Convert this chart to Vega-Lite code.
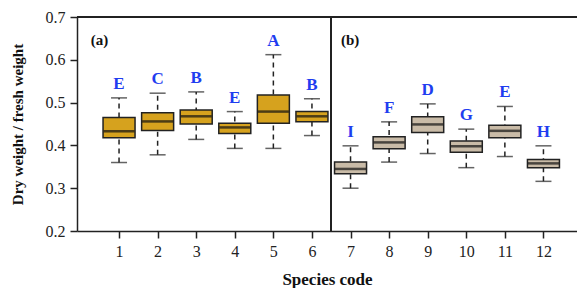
{
  "$schema": "https://vega.github.io/schema/vega-lite/v6.json",
  "width": 500,
  "height": 214,
  "autosize": {"type": "none"},
  "padding": {"left": 77, "top": 17, "right": 0, "bottom": 57},
  "config": {
    "view": {"stroke": null},
    "font": "Liberation Serif",
    "axis": {"grid": false, "domainColor": "#222", "domainWidth": 1.5, "tickColor": "#222", "tickWidth": 1.5, "tickSize": 7, "labelFont": "Liberation Serif", "labelFontSize": 16, "labelColor": "#222", "titleFont": "Liberation Serif", "titleFontWeight": "bold", "titleColor": "#111"}
  },
  "datasets": {
    "boxes": [
      {"species": 1, "panel": "a", "low": 0.360, "q1": 0.418, "med": 0.433, "q3": 0.465, "high": 0.511, "letter": "E"},
      {"species": 2, "panel": "a", "low": 0.378, "q1": 0.435, "med": 0.456, "q3": 0.476, "high": 0.522, "letter": "C"},
      {"species": 3, "panel": "a", "low": 0.414, "q1": 0.450, "med": 0.468, "q3": 0.483, "high": 0.525, "letter": "B"},
      {"species": 4, "panel": "a", "low": 0.393, "q1": 0.428, "med": 0.442, "q3": 0.452, "high": 0.479, "letter": "E"},
      {"species": 5, "panel": "a", "low": 0.393, "q1": 0.452, "med": 0.479, "q3": 0.518, "high": 0.612, "letter": "A"},
      {"species": 6, "panel": "a", "low": 0.423, "q1": 0.455, "med": 0.468, "q3": 0.479, "high": 0.509, "letter": "B"},
      {"species": 7, "panel": "b", "low": 0.300, "q1": 0.334, "med": 0.345, "q3": 0.361, "high": 0.399, "letter": "I"},
      {"species": 8, "panel": "b", "low": 0.361, "q1": 0.392, "med": 0.407, "q3": 0.420, "high": 0.455, "letter": "F"},
      {"species": 9, "panel": "b", "low": 0.381, "q1": 0.430, "med": 0.449, "q3": 0.467, "high": 0.497, "letter": "D"},
      {"species": 10, "panel": "b", "low": 0.348, "q1": 0.384, "med": 0.398, "q3": 0.410, "high": 0.438, "letter": "G"},
      {"species": 11, "panel": "b", "low": 0.374, "q1": 0.418, "med": 0.434, "q3": 0.447, "high": 0.491, "letter": "E"},
      {"species": 12, "panel": "b", "low": 0.316, "q1": 0.348, "med": 0.358, "q3": 0.367, "high": 0.399, "letter": "H"}
    ],
    "panels": [
      {"species": 0.27, "value": 0.647, "label": "(a)"},
      {"species": 6.75, "value": 0.647, "label": "(b)"}
    ]
  },
  "data": {"name": "boxes"},
  "layer": [
    {
      "mark": {"type": "rule", "strokeDash": [5, 4], "strokeWidth": 1.5, "color": "#222"},
      "encoding": {
        "x": {"field": "species", "type": "quantitative", "scale": {"domain": [0.04, 12.74], "nice": false, "zero": false},
          "axis": {"values": [1,2,3,4,5,6,7,8,9,10,11,12], "title": "Species code", "titleFontSize": 17, "titlePadding": 12, "labelPadding": 5}},
        "y": {"field": "low", "type": "quantitative", "scale": {"domain": [0.2, 0.7], "nice": false, "zero": false},
          "axis": {"values": [0.2,0.3,0.4,0.5,0.6,0.7], "format": ".1f", "title": "Dry weight / fresh weight", "titleFontSize": 15, "titlePadding": 20, "labelPadding": 5}},
        "y2": {"field": "high"}
      }
    },
    {
      "mark": {"type": "tick", "orient": "horizontal", "size": 16, "thickness": 1.5, "color": "#222"},
      "encoding": {"x": {"field": "species", "type": "quantitative"}, "y": {"field": "low", "type": "quantitative"}}
    },
    {
      "mark": {"type": "tick", "orient": "horizontal", "size": 16, "thickness": 1.5, "color": "#222"},
      "encoding": {"x": {"field": "species", "type": "quantitative"}, "y": {"field": "high", "type": "quantitative"}}
    },
    {
      "mark": {"type": "bar", "size": 32, "stroke": "#222", "strokeWidth": 1.5},
      "encoding": {
        "x": {"field": "species", "type": "quantitative"},
        "y": {"field": "q1", "type": "quantitative"},
        "y2": {"field": "q3"},
        "color": {"field": "panel", "type": "nominal", "scale": {"domain": ["a", "b"], "range": ["#D6A21E", "#C9BBA7"]}, "legend": null}
      }
    },
    {
      "mark": {"type": "tick", "orient": "horizontal", "size": 31, "thickness": 2.5, "color": "#111"},
      "encoding": {"x": {"field": "species", "type": "quantitative"}, "y": {"field": "med", "type": "quantitative"}}
    },
    {
      "mark": {"type": "text", "dy": -14, "font": "Liberation Serif", "fontSize": 17, "fontWeight": "bold", "color": "#1f3df0", "baseline": "middle"},
      "encoding": {"x": {"field": "species", "type": "quantitative"}, "y": {"field": "high", "type": "quantitative"}, "text": {"field": "letter"}}
    },
    {
      "mark": {"type": "rule", "color": "#222", "strokeWidth": 1.5},
      "encoding": {"x": {"datum": 6.5}}
    },
    {
      "mark": {"type": "rule", "color": "#222", "strokeWidth": 1.5},
      "encoding": {"y": {"datum": 0.7}}
    },
    {
      "data": {"name": "panels"},
      "mark": {"type": "text", "align": "left", "baseline": "middle", "font": "Liberation Serif", "fontSize": 15, "fontWeight": "bold", "color": "#111"},
      "encoding": {"x": {"field": "species", "type": "quantitative"}, "y": {"field": "value", "type": "quantitative"}, "text": {"field": "label"}}
    }
  ]
}
